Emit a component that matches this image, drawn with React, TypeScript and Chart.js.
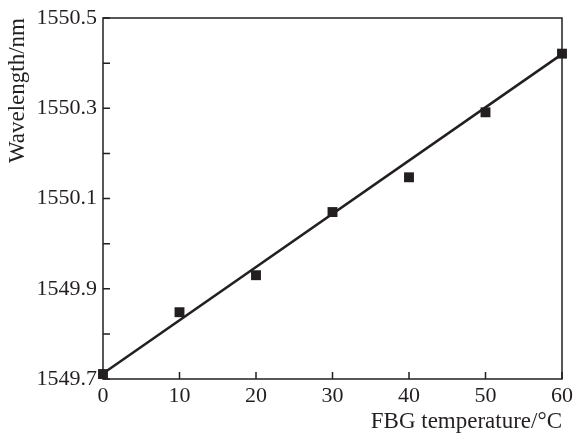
import React, { useEffect, useRef } from "react";
import { Chart, registerables } from "chart.js";

Chart.register(...registerables);

const temperatures = [0, 10, 20, 30, 40, 50, 60];
const wavelengths = [1549.711, 1549.848, 1549.93, 1550.07, 1550.147, 1550.291, 1550.421];
const fitX = [0, 60];
const fitY = [1549.712, 1550.42];
const xTicks = [0, 10, 20, 30, 40, 50, 60];
const yLabelTicks = [1549.7, 1549.9, 1550.1, 1550.3, 1550.5];

const INK = "#231f20";
const FONT = "'Liberation Serif', 'Times New Roman', serif";

const frame = {
  id: "frame",
  afterDraw(chart: any) {
    const { ctx, chartArea } = chart;
    const { left, right, top, bottom } = chartArea;
    ctx.save();
    ctx.strokeStyle = INK;
    ctx.lineWidth = 1.5;
    ctx.strokeRect(left, top, right - left, bottom - top);
    const xs = chart.scales.x;
    const ys = chart.scales.y;
    ctx.beginPath();
    xs.ticks.forEach((t: any) => {
      const px = xs.getPixelForValue(t.value);
      ctx.moveTo(px, bottom);
      ctx.lineTo(px, bottom - 7);
    });
    ys.ticks.forEach((t: any) => {
      const py = ys.getPixelForValue(t.value);
      ctx.moveTo(left, py);
      ctx.lineTo(left + 7, py);
    });
    ctx.stroke();
    ctx.restore();
  },
};

export default function App() {
  const ref = useRef<HTMLCanvasElement>(null);
  useEffect(() => {
    document.body.style.margin = "0";
    const chart = new Chart(ref.current!, {
      type: "scatter",
      data: {
        datasets: [
          {
            data: temperatures.map((x, i) => ({ x, y: wavelengths[i] })),
            pointStyle: "rect",
            pointRadius: 7,
            backgroundColor: INK,
            borderColor: INK,
            borderWidth: 0,
            clip: false,
            order: 0,
          },
          {
            data: fitX.map((x, i) => ({ x, y: fitY[i] })),
            showLine: true,
            pointRadius: 0,
            borderColor: INK,
            borderWidth: 2.5,
            clip: false,
            order: 1,
          },
        ],
      },
      options: {
        animation: false,
        responsive: false,
        layout: { padding: { top: 18, right: 12, left: 0, bottom: 0 } },
        plugins: { legend: { display: false }, tooltip: { enabled: false } },
        scales: {
          x: {
            type: "linear",
            min: 0,
            max: 60,
            afterBuildTicks: (s: any) => {
              s.ticks = xTicks.map((v) => ({ value: v }));
            },
            afterFit: (s: any) => {
              s.height = 57;
              s.paddingLeft = 0;
              s.paddingRight = 0;
            },
            grid: { display: false, drawTicks: false },
            border: { display: false },
            ticks: { color: INK, font: { family: FONT, size: 22 }, padding: 4, maxRotation: 0 },
            title: {
              display: true,
              text: "FBG temperature/°C",
              align: "end",
              color: INK,
              font: { family: FONT, size: 23 },
              padding: { top: 0, bottom: 0 },
            },
          },
          y: {
            type: "linear",
            min: 1549.7,
            max: 1550.5,
            ticks: {
              stepSize: 0.1,
              color: INK,
              font: { family: FONT, size: 22 },
              padding: 6,
              callback: (v: any) => {
                const hit = yLabelTicks.find((t) => Math.abs(t - Number(v)) < 1e-6);
                return hit !== undefined ? hit.toFixed(1) : "";
              },
            },
            afterFit: (s: any) => {
              s.width = 103;
              s.paddingTop = 0;
              s.paddingBottom = 0;
            },
            grid: { display: false, drawTicks: false },
            border: { display: false },
            title: {
              display: true,
              text: "Wavelength/nm",
              align: "end",
              color: INK,
              font: { family: FONT, size: 23 },
              padding: { top: 4, bottom: 0 },
            },
          },
        },
      },
      plugins: [frame],
    } as any);
    return () => chart.destroy();
  }, []);
  return <canvas ref={ref} width={574} height={436} style={{ display: "block" }} />;
}
